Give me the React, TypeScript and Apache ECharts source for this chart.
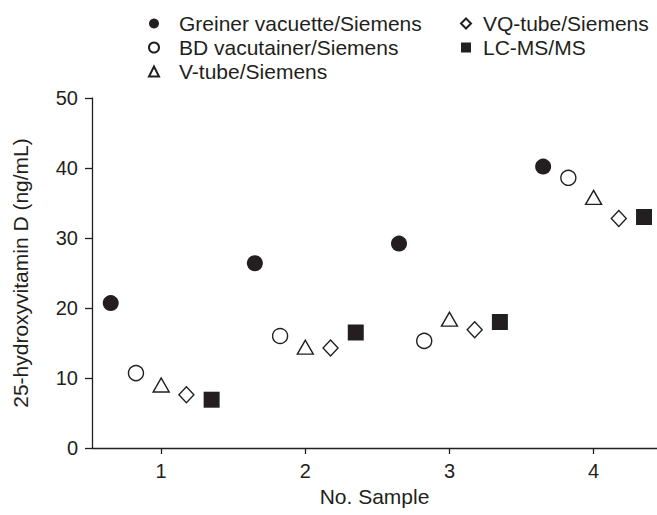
import React, { useEffect, useRef } from "react";
import * as echarts from "echarts";

const seriesNames = [
  "Greiner vacuette/Siemens",
  "BD vacutainer/Siemens",
  "V-tube/Siemens",
  "VQ-tube/Siemens",
  "LC-MS/MS",
];
const samples = [1, 2, 3, 4];
const offsets = [-0.35, -0.175, 0, 0.175, 0.35];
const greiner = [20.7, 26.4, 29.2, 40.2];
const bd = [10.7, 16.0, 15.3, 38.6];
const vtube = [9.0, 14.4, 18.4, 35.8];
const vq = [7.6, 14.3, 16.9, 32.8];
const lcms = [6.9, 16.5, 18.0, 33.0];
const yTicks = [0, 10, 20, 30, 40, 50];

const INK = "#231f20";
const FONT = "Liberation Sans";
const FS = 20;
const FS_NAME = 21;

export default function App() {
  const ref = useRef<HTMLDivElement>(null);
  useEffect(() => {
    if (!ref.current) return;
    const chart = echarts.init(ref.current, null, { renderer: "svg" });
    const values = [greiner, bd, vtube, vq, lcms];
    const symbols = ["circle", "circle", "triangle", "diamond", "rect"];
    const sizes: any[] = [16, 15, [16, 14], [15, 16], 16];
    const filled = [true, false, false, false, true];
    const series = values.map((vals, i) => ({
      type: "scatter",
      name: seriesNames[i],
      symbol: symbols[i],
      symbolSize: sizes[i],
      data: samples.map((s, j) => [s + offsets[i], vals[j]]),
      itemStyle: filled[i]
        ? { color: INK, borderWidth: 0, opacity: 1 }
        : { color: "#ffffff", borderColor: INK, borderWidth: 1.4, opacity: 1 },
      z: 3,
    }));
    const legendText = (pad: number) => ({
      color: INK,
      fontFamily: FONT,
      fontSize: FS_NAME,
      lineHeight: 21,
      padding: [0, 0, 0, pad],
    });
    chart.setOption({
      animation: false,
      backgroundColor: "#ffffff",
      grid: {
        left: 92,
        right: 0,
        top: 98,
        bottom: 67,
        containLabel: false,
        outerBoundsMode: "none",
      },
      legend: [
        {
          data: seriesNames.slice(0, 3),
          orient: "vertical",
          left: 143,
          top: 8,
          itemWidth: 10,
          itemHeight: 10,
          itemGap: 3,
          textStyle: legendText(15),
          selectedMode: false,
        },
        {
          data: seriesNames.slice(3),
          orient: "vertical",
          left: 455,
          top: 8,
          itemWidth: 10,
          itemHeight: 10,
          itemGap: 3,
          textStyle: legendText(7),
          selectedMode: false,
        },
      ],
      xAxis: {
        type: "value",
        min: 0.52,
        max: 4.44,
        name: "No. Sample",
        nameLocation: "middle",
        nameGap: 38,
        nameTextStyle: { color: INK, fontFamily: FONT, fontSize: FS_NAME },
        splitLine: { show: false },
        axisLine: { show: true, lineStyle: { color: INK, width: 1.3 } },
        axisTick: {
          show: true,
          length: 6,
          customValues: samples,
          lineStyle: { color: INK, width: 1.3 },
        },
        axisLabel: {
          customValues: samples,
          margin: 13,
          color: INK,
          fontFamily: FONT,
          fontSize: FS,
        },
      },
      yAxis: {
        type: "value",
        min: 0,
        max: 50,
        interval: 10,
        name: "25-hydroxyvitamin D (ng/mL)",
        nameLocation: "middle",
        nameGap: 61,
        nameTextStyle: { color: INK, fontFamily: FONT, fontSize: FS_NAME },
        splitLine: { show: false },
        axisLine: { show: true, lineStyle: { color: INK, width: 1.3 } },
        axisTick: {
          show: true,
          length: 7,
          customValues: yTicks,
          lineStyle: { color: INK, width: 1.3 },
        },
        axisLabel: {
          margin: 14,
          color: INK,
          fontFamily: FONT,
          fontSize: FS,
        },
      },
      series,
    });
    return () => chart.dispose();
  }, []);
  return (
    <div
      ref={ref}
      style={{ position: "fixed", left: 0, top: 0, width: 657, height: 515 }}
    />
  );
}
